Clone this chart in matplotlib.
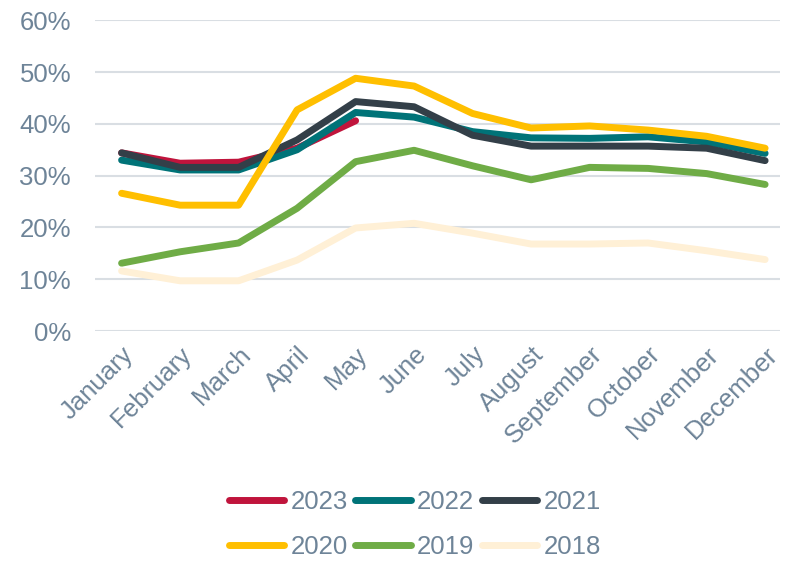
import matplotlib.pyplot as plt
from matplotlib.ticker import PercentFormatter

plt.rcParams['font.family'] = ['Liberation Sans', 'DejaVu Sans']

# monthly shares (%) by year
months = ['January', 'February', 'March', 'April', 'May', 'June', 'July',
          'August', 'September', 'October', 'November', 'December']
y2023 = [34.4, 32.4, 32.6, 35.3, 40.6]
y2022 = [33.0, 31.1, 31.1, 35.0, 42.2, 41.3, 38.5, 37.3, 37.2, 37.5, 36.5, 34.3]
y2021 = [34.4, 31.6, 31.6, 36.9, 44.3, 43.3, 37.8, 35.7, 35.7, 35.7, 35.3, 32.9]
y2020 = [26.6, 24.3, 24.3, 42.7, 48.8, 47.3, 42.0, 39.2, 39.6, 38.8, 37.6, 35.3]
y2019 = [13.1, 15.3, 17.0, 23.7, 32.7, 34.9, 31.9, 29.2, 31.6, 31.4, 30.4, 28.3]
y2018 = [11.6, 9.7, 9.7, 13.7, 19.9, 20.8, 18.9, 16.8, 16.8, 17.0, 15.5, 13.8]

years = ['2023', '2022', '2021', '2020', '2019', '2018']
series = [y2023, y2022, y2021, y2020, y2019, y2018]
colors = ['#C0143C', '#007378', '#333F48', '#FFBF00', '#6FAC46', '#FFF0D6']

text_col = '#6E8498'
fs = 18.5

fig = plt.figure(figsize=(7.89, 5.63), dpi=100)
ax = fig.add_axes([0.120, 0.412, 0.869, 0.552])

lines = {}
for name, vals, c in zip(years, series, colors):
    ln, = ax.plot(range(len(vals)), vals, color=c, lw=5,
                  solid_capstyle='round', solid_joinstyle='round', label=name)
    lines[name] = ln

ax.set_ylim(0, 60)
ax.set_xlim(-0.46, 11.26)
ax.set_yticks(range(0, 61, 10))
ax.yaxis.set_major_formatter(PercentFormatter(decimals=0))
ax.set_xticks(range(12))
ax.set_xticklabels(months, rotation=45, ha='right', rotation_mode='anchor')
ax.tick_params(length=0, labelsize=fs, labelcolor=text_col)
ax.tick_params(axis='y', pad=17)
ax.tick_params(axis='x', pad=8)
ax.grid(axis='y', color='#D9DEE3', lw=1.5)
ax.set_axisbelow(True)
for s in ax.spines.values():
    s.set_visible(False)

# legend: row 1 = 2023, 2022, 2021; row 2 = 2020, 2019, 2018
order = ['2023', '2020', '2022', '2019', '2021', '2018']
leg = fig.legend([lines[k] for k in order], order, ncol=3,
                 loc='center', bbox_to_anchor=(0.526, 0.068),
                 frameon=False, fontsize=fs, handlelength=2.15,
                 handletextpad=0.25, columnspacing=0.3, labelspacing=0.8,
                 labelcolor=text_col, borderpad=0)

fig.savefig('out.png', dpi=100)
